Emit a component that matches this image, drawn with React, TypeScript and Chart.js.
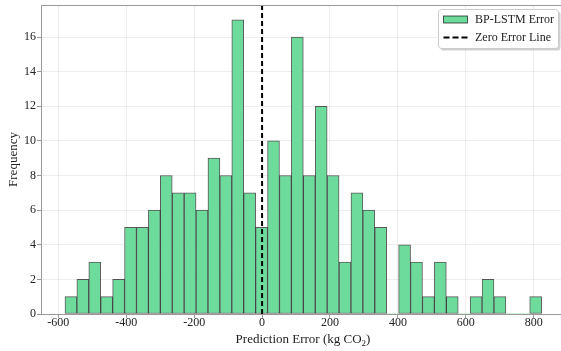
import React, { useEffect, useRef } from 'react';
import { Chart, registerables } from 'chart.js';

Chart.register(...registerables);

// Histogram bins (left edge of first bin and bin width)
const binStart = -580.4;
const binWidth = 35.09;
const counts = [
  1, 2, 3, 1, 2, 5, 5, 6, 8, 7, 7, 6, 9, 8, 17, 7, 5,
  10, 8, 16, 8, 12, 8, 3, 7, 6, 5, 0, 4, 3, 1, 3, 1, 0, 1, 2, 1, 0, 0, 1,
];
const xTicks = [-600, -400, -200, 0, 200, 400, 600, 800];
const yTicks = [0, 2, 4, 6, 8, 10, 12, 14, 16];
const seriesLabel = 'BP-LSTM Error';
const zeroLabel = 'Zero Error Line';
const xTitle = 'Prediction Error (kg CO';
const xTitleSub = '2';
const yTitle = 'Frequency';

const X_MIN = -651;
const X_MAX = 892;
const Y_MAX = 17.85;

const BAR_FILL = 'rgb(109, 219, 156)';
const BAR_EDGE = 'rgba(0, 0, 0, 0.65)';
const FONT = '"Liberation Serif", "Times New Roman", serif';

const framePlugin = {
  id: 'frame',
  afterDraw(chart: any) {
    const { ctx, chartArea: a } = chart;
    ctx.save();
    ctx.strokeStyle = '#9a9a9a';
    ctx.lineWidth = 1;
    ctx.strokeRect(Math.round(a.left) + 0.5, Math.round(a.top) + 0.5, a.right - a.left, Math.round(a.bottom - a.top));
    ctx.restore();
  },
};

const xTitlePlugin = {
  id: 'xTitle',
  afterDraw(chart: any) {
    const { ctx, chartArea: a } = chart;
    ctx.save();
    ctx.fillStyle = '#222';
    ctx.textBaseline = 'alphabetic';
    ctx.textAlign = 'left';
    const main = `13px ${FONT}`;
    const sub = `9px ${FONT}`;
    ctx.font = main;
    const w1 = ctx.measureText(xTitle).width;
    const w3 = ctx.measureText(')').width;
    ctx.font = sub;
    const w2 = ctx.measureText(xTitleSub).width;
    const total = w1 + w2 + w3;
    const cx = (a.left + a.right) / 2;
    const y = 342.5;
    let x = cx - total / 2;
    ctx.font = main;
    ctx.fillText(xTitle, x, y);
    x += w1;
    ctx.font = sub;
    ctx.fillText(xTitleSub, x, y + 3);
    x += w2;
    ctx.font = main;
    ctx.fillText(')', x, y);
    ctx.restore();
  },
};

const legendPlugin = {
  id: 'customLegend',
  afterDraw(chart: any) {
    const { ctx } = chart;
    ctx.save();
    const x = 438.5;
    const y = 9.5;
    const w = 120;
    const h = 39;
    const r = 3;
    const rr = (ox: number, oy: number) => {
      ctx.beginPath();
      ctx.moveTo(ox + r, oy);
      ctx.lineTo(ox + w - r, oy);
      ctx.quadraticCurveTo(ox + w, oy, ox + w, oy + r);
      ctx.lineTo(ox + w, oy + h - r);
      ctx.quadraticCurveTo(ox + w, oy + h, ox + w - r, oy + h);
      ctx.lineTo(ox + r, oy + h);
      ctx.quadraticCurveTo(ox, oy + h, ox, oy + h - r);
      ctx.lineTo(ox, oy + r);
      ctx.quadraticCurveTo(ox, oy, ox + r, oy);
      ctx.closePath();
    };
    // shadow
    rr(x + 2, y + 2);
    ctx.fillStyle = 'rgba(0,0,0,0.18)';
    ctx.fill();
    rr(x, y);
    ctx.fillStyle = '#ffffff';
    ctx.fill();
    ctx.strokeStyle = '#cccccc';
    ctx.lineWidth = 1;
    ctx.stroke();
    // patch
    ctx.fillStyle = BAR_FILL;
    ctx.fillRect(443.5, y + 6.5, 24, 7);
    ctx.strokeStyle = BAR_EDGE;
    ctx.strokeRect(443.5, y + 6.5, 24, 7);
    // dashed line
    ctx.beginPath();
    ctx.setLineDash([6, 3]);
    ctx.strokeStyle = '#000';
    ctx.lineWidth = 2;
    ctx.moveTo(443.5, y + 28);
    ctx.lineTo(468, y + 28);
    ctx.stroke();
    ctx.setLineDash([]);
    // texts
    ctx.fillStyle = '#222';
    ctx.font = `12px ${FONT}`;
    ctx.textBaseline = 'middle';
    ctx.textAlign = 'left';
    ctx.fillText(seriesLabel, 475, y + 10.5);
    ctx.fillText(zeroLabel, 475, y + 28);
    ctx.restore();
  },
};

export default function App() {
  const ref = useRef<HTMLCanvasElement | null>(null);

  useEffect(() => {
    if (!ref.current) return;
    const barData = counts.map((c, i) => ({ x: binStart + (i + 0.5) * binWidth, y: c }));
    const chart = new Chart(ref.current, {
      type: 'bar',
      data: {
        datasets: [
          {
            type: 'line',
            label: zeroLabel,
            data: [
              { x: 0, y: 0 },
              { x: 0, y: Y_MAX },
            ],
            borderColor: '#000',
            borderWidth: 2,
            borderDash: [5, 3],
            pointRadius: 0,
            order: 0,
          } as any,
          {
            type: 'bar',
            label: seriesLabel,
            data: barData,
            backgroundColor: BAR_FILL,
            borderColor: BAR_EDGE,
            borderWidth: (c: any) => (c.raw && c.raw.y ? 1 : 0),
            borderSkipped: false,
            barPercentage: 1,
            categoryPercentage: 1,
            order: 1,
          } as any,
        ],
      },
      options: {
        responsive: false,
        animation: false,
        devicePixelRatio: 1,
        layout: { padding: { top: 5, left: 0, right: 0, bottom: 0 } },
        plugins: {
          legend: { display: false },
          tooltip: { enabled: false },
        },
        font: { family: FONT },
        scales: {
          x: {
            type: 'linear',
            min: X_MIN,
            max: X_MAX,
            offset: false,
            afterFit: (s: any) => {
              s.height = 37;
              s.paddingLeft = 0;
              s.paddingRight = 0;
            },
            afterBuildTicks: (s: any) => {
              s.ticks = xTicks.map((v) => ({ value: v }));
            },
            ticks: {
              color: '#222',
              font: { family: FONT, size: 12 },
              padding: -2,
              maxRotation: 0,
              autoSkip: false,
              includeBounds: false,
              callback: (v: any) => String(v),
            },
            grid: {
              offset: false,
              color: 'rgba(0,0,0,0.07)',
              tickColor: '#9a9a9a',
              tickLength: 4,
            },
            border: { display: false },
          },
          y: {
            type: 'linear',
            min: 0,
            max: Y_MAX,
            afterFit: (s: any) => {
              s.width = 41;
              s.paddingTop = 0;
              s.paddingBottom = 0;
            },
            afterBuildTicks: (s: any) => {
              s.ticks = yTicks.map((v) => ({ value: v }));
            },
            ticks: {
              color: '#222',
              font: { family: FONT, size: 12 },
              padding: 1,
              autoSkip: false,
              includeBounds: false,
              callback: (v: any) => String(v),
            },
            grid: {
              color: 'rgba(0,0,0,0.07)',
              tickColor: '#9a9a9a',
              tickLength: 4,
            },
            border: { display: false },
            title: {
              display: true,
              text: yTitle,
              color: '#222',
              font: { family: FONT, size: 13 },
              padding: { top: 6, bottom: 0 },
            },
          },
        },
      } as any,
      plugins: [framePlugin, xTitlePlugin, legendPlugin],
    });
    return () => chart.destroy();
  }, []);

  return (
    <div
      style={{
        position: 'fixed',
        left: 0,
        top: 0,
        width: 561,
        height: 351,
        overflow: 'hidden',
        background: '#fff',
      }}
    >
      <canvas ref={ref} width={565} height={351} style={{ width: 565, height: 351, display: 'block' }} />
    </div>
  );
}
